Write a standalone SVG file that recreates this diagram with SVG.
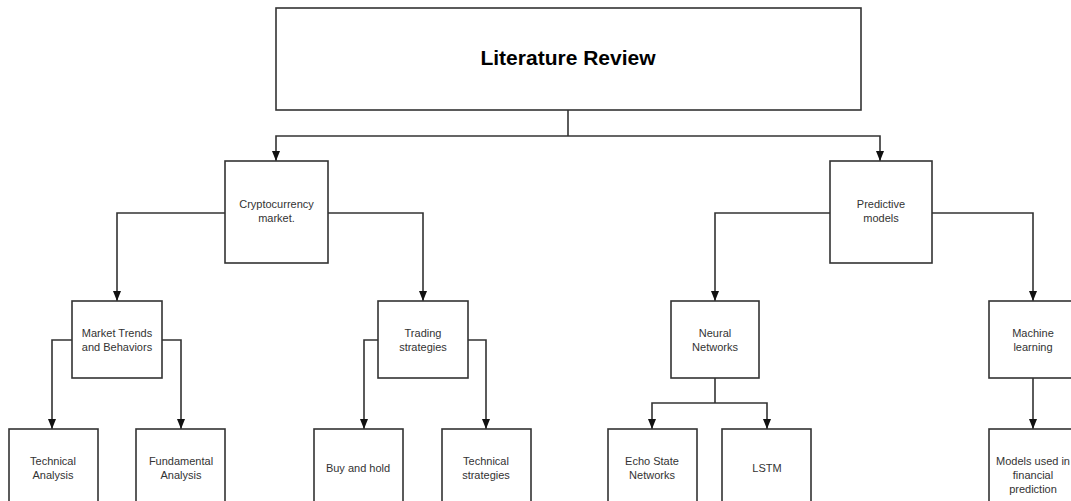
<svg xmlns="http://www.w3.org/2000/svg" width="1071" height="501" viewBox="0 0 1071 501">
<style>
.box{fill:#fff;stroke:#333;stroke-width:1.6}
.t{font-family:"Liberation Sans",Arial,sans-serif;font-size:11px;fill:#333;text-anchor:middle}
.tb{font-family:"Liberation Sans",Arial,sans-serif;font-size:21px;font-weight:bold;fill:#000;text-anchor:middle}
.c{fill:none;stroke:#333;stroke-width:1.6;marker-end:url(#ah)}
.cn{fill:none;stroke:#333;stroke-width:1.6}
</style>
<defs>
<marker id="ah" viewBox="0 0 10 8" refX="10" refY="4" markerWidth="10" markerHeight="8" markerUnits="userSpaceOnUse" orient="auto">
<path d="M0,0 L10,4 L0,8 Z" fill="#111"/>
</marker>
</defs>
<rect width="1071" height="501" fill="#fff"/>
<g id="connectors">
<path class="cn" d="M568,110 V136"/>
<path class="c" d="M568,136 H276 V161"/>
<path class="c" d="M568,136 H880 V161"/>
<path class="c" d="M225,213 H117 V301"/>
<path class="c" d="M328,213 H423 V301"/>
<path class="c" d="M830,213 H715 V301"/>
<path class="c" d="M932,213 H1033 V301"/>
<path class="c" d="M72,340 H52 V429"/>
<path class="c" d="M162,340 H181 V429"/>
<path class="c" d="M378,340 H364 V429"/>
<path class="c" d="M468,340 H486 V429"/>
<path class="cn" d="M715,378 V403"/>
<path class="c" d="M715,403 H652 V429"/>
<path class="c" d="M715,403 H767 V429"/>
<path class="c" d="M1033,378 V429"/>
</g>
<g id="n-lit"><rect class="box" x="276" y="8" width="585" height="102"/><text class="tb" x="568" y="65">Literature Review</text></g>
<g id="n-crypto"><rect class="box" x="225" y="161" width="103" height="102"/><text class="t" x="276.5" y="208">Cryptocurrency</text><text class="t" x="276.5" y="222">market.</text></g>
<g id="n-pred"><rect class="box" x="830" y="161" width="102" height="102"/><text class="t" x="881" y="208">Predictive</text><text class="t" x="881" y="222">models</text></g>
<g id="n-mtb"><rect class="box" x="72" y="301" width="90" height="77"/><text class="t" x="117" y="337">Market Trends</text><text class="t" x="117" y="351">and Behaviors</text></g>
<g id="n-trad"><rect class="box" x="378" y="301" width="90" height="77"/><text class="t" x="423" y="337">Trading</text><text class="t" x="423" y="351">strategies</text></g>
<g id="n-nn"><rect class="box" x="671" y="301" width="88" height="77"/><text class="t" x="715" y="337">Neural</text><text class="t" x="715" y="351">Networks</text></g>
<g id="n-ml"><rect class="box" x="989" y="301" width="90" height="77"/><text class="t" x="1033" y="337">Machine</text><text class="t" x="1033" y="351">learning</text></g>
<g id="n-ta"><rect class="box" x="9" y="429" width="89" height="80"/><text class="t" x="53" y="465">Technical</text><text class="t" x="53" y="479">Analysis</text></g>
<g id="n-fa"><rect class="box" x="136" y="429" width="89" height="80"/><text class="t" x="181" y="465">Fundamental</text><text class="t" x="181" y="479">Analysis</text></g>
<g id="n-bh"><rect class="box" x="314" y="429" width="89" height="80"/><text class="t" x="358" y="472">Buy and hold</text></g>
<g id="n-ts"><rect class="box" x="442" y="429" width="89" height="80"/><text class="t" x="486" y="465">Technical</text><text class="t" x="486" y="479">strategies</text></g>
<g id="n-esn"><rect class="box" x="608" y="429" width="89" height="80"/><text class="t" x="652" y="465">Echo State</text><text class="t" x="652" y="479">Networks</text></g>
<g id="n-lstm"><rect class="box" x="722" y="429" width="89" height="80"/><text class="t" x="767" y="472">LSTM</text></g>
<g id="n-mfp"><rect class="box" x="989" y="429" width="90" height="80"/><text class="t" x="1033" y="465">Models used in</text><text class="t" x="1033" y="479">financial</text><text class="t" x="1033" y="493">prediction</text></g>
</svg>
